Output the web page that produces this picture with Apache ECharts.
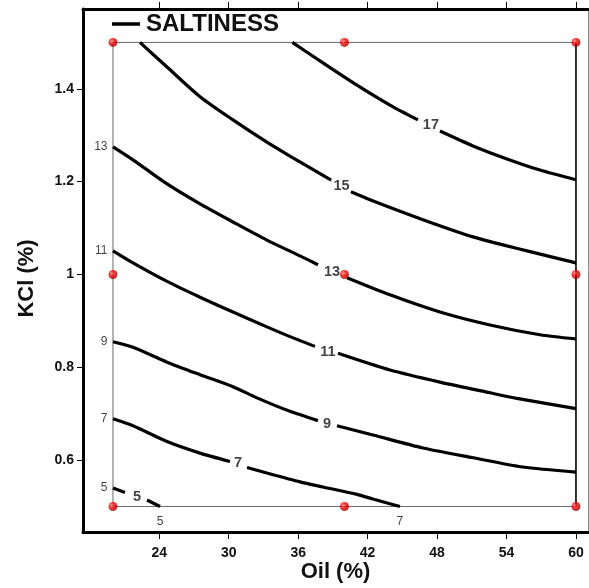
<!DOCTYPE html>
<html><head><meta charset="utf-8">
<script src="https://cdn.jsdelivr.net/npm/echarts@6/dist/echarts.min.js"></script>
<style>html,body{margin:0;padding:0;background:#fff}#c{width:589px;height:588px}</style>
</head><body><div id="c"></div>
<script>
// ---- data (Oil %, KCl %) ----
const xTicks = [24, 30, 36, 42, 48, 54, 60];
const yTicks = [0.6, 0.8, 1.0, 1.2, 1.4];
const oilLevels = [20, 40, 60];
const kclLevels = [0.5, 1.0, 1.5];

// contour lines (null = gap for the inline label)
const sal17 = [[35.5,1.5],[38.14,1.456],[41.08,1.408],[43.93,1.365],[46.35,1.333],null,[48.25,1.309],[51.10,1.277],[54.04,1.249],[56.89,1.225],[60,1.204]];
const sal15 = [[22.33,1.5],[24.67,1.447],[27.52,1.383],[30.37,1.333],[33.30,1.285],[35.29,1.255],[38.85,1.203],null,[40.56,1.178],[42.20,1.161],[46.78,1.118],[51.10,1.081],[55.42,1.053],[60,1.025]];
const sal13 = [[20,1.275],[21.73,1.247],[24.67,1.195],[27.52,1.152],[30.37,1.113],[33.30,1.074],[36.15,1.040],[37.71,1.021],null,[40.22,0.993],[43.93,0.956],[48.25,0.919],[52.57,0.891],[56.89,0.870],[60,0.861]];
const sal11 = [[20,1.051],[21.73,1.025],[24.67,0.985],[27.52,0.951],[30.37,0.919],[33.30,0.887],[35.29,0.866],[37.45,0.845],null,[39.44,0.830],[43.93,0.794],[48.25,0.768],[52.57,0.745],[54.90,0.733],[60,0.711]];
const sal9  = [[20,0.855],[21.73,0.843],[24.67,0.811],[27.52,0.784],[30.37,0.758],[32.44,0.734],[35.29,0.705],[37.71,0.685],null,[39.35,0.674],[42.46,0.654],[46.78,0.626],[51.10,0.605],[55.42,0.585],[60,0.574]];
const sal7  = [[20,0.689],[21.73,0.674],[24.67,0.640],[27.52,0.615],[30.11,0.597],null,[31.58,0.584],[33.30,0.572],[36.16,0.553],[38.14,0.542],[41.08,0.526],[42.46,0.516],[44.79,0.5]];
const sal5  = [[20,0.540],[21.04,0.530],null,[22.94,0.514],[24.06,0.5]];

// contour labels [oil, kcl, text]
const inlineLabels = [[47.47,1.323,'17'],[39.75,1.190,'15'],[38.92,1.005,'13'],[38.57,0.833,'11'],[38.49,0.678,'9'],[30.80,0.594,'7'],[22.07,0.521,'5']];
const leftEdgeLabels = [[20,1.275,'13'],[20,1.051,'11'],[20,0.855,'9'],[20,0.689,'7'],[20,0.540,'5']];
const bottomEdgeLabels = [[24.06,0.5,'5'],[44.79,0.5,'7']];

// ---- build ----
const FONT = 'Liberation Sans, Arial, sans-serif';
function split(arr) {
  const out = []; let cur = [];
  arr.forEach(p => { if (p === null) { if (cur.length) out.push(cur); cur = []; } else cur.push(p); });
  if (cur.length) out.push(cur);
  return out;
}
const contours = [sal17, sal15, sal13, sal11, sal9, sal7, sal5];
const series = [];
contours.forEach(c => split(c).forEach(seg => series.push({
  name: 'SALTINESS', type: 'line', data: seg, symbol: 'none', smooth: 0.25,
  itemStyle: { color: '#000' },
  lineStyle: { color: '#000', width: 3.2 }, z: 3, silent: true
})));
const x0 = Math.min(...oilLevels), x1 = Math.max(...oilLevels);
const y0 = Math.min(...kclLevels), y1 = Math.max(...kclLevels);
series.push({ name: 'box', type: 'line', symbol: 'none', data: [[x1,y0],[x0,y0],[x0,y1],[x1,y1]],
  lineStyle: { color: '#6a6a6a', width: 1 }, z: 2, silent: true });
series.push({ name: 'boxR', type: 'line', symbol: 'none', data: [[x1,y1],[x1,y0]],
  lineStyle: { color: '#000', width: 1.6 }, z: 2, silent: true });
const design = [];
oilLevels.forEach(o => kclLevels.forEach(k => design.push([o, k])));
series.push({ name: 'design', type: 'scatter', data: design, symbolSize: 9, z: 5, silent: true,
  itemStyle: { color: new echarts.graphic.RadialGradient(0.35, 0.35, 0.7, [{offset:0,color:'#ff7a7a'},{offset:0.45,color:'#ee0000'},{offset:1,color:'#a00000'}]) } });
series.push({ name: 'lblIn', type: 'scatter', data: inlineLabels, symbolSize: 1, z: 6, silent: true,
  itemStyle: { color: 'rgba(0,0,0,0)' },
  label: { show: true, position: 'inside', formatter: p => p.value[2], color: '#111', fontFamily: FONT, fontWeight: 'bold', fontSize: 14.5 } });
series.push({ name: 'lblL', type: 'scatter', data: leftEdgeLabels, symbolSize: 1, z: 6, silent: true,
  itemStyle: { color: 'rgba(0,0,0,0)' },
  label: { show: true, position: 'left', distance: 5, formatter: p => p.value[2], color: '#111', fontFamily: FONT, fontSize: 12 } });
series.push({ name: 'lblB', type: 'scatter', data: bottomEdgeLabels, symbolSize: 1, z: 6, silent: true,
  itemStyle: { color: 'rgba(0,0,0,0)' },
  label: { show: true, position: 'bottom', distance: 9, formatter: p => p.value[2], color: '#111', fontFamily: FONT, fontSize: 12 } });

const XMIN = 17.41, XMAX = 61.04, YMIN = 0.445, YMAX = 1.572;
const chart = echarts.init(document.getElementById('c'), null, { renderer: 'canvas' });
chart.setOption({
  animation: false,
  backgroundColor: '#fff',
  grid: { left: 83, top: 9, right: 1, bottom: 56, show: false, containLabel: false, outerBoundsMode: 'none' },
  legend: {
    data: [{ name: 'SALTINESS', icon: 'rect', itemStyle: { color: '#000' } }], left: 112, top: 12, padding: 0,
    itemWidth: 28, itemHeight: 3.5, selectedMode: false,
    textStyle: { fontFamily: FONT, fontWeight: 'bold', fontSize: 24, color: '#111', padding: [0,0,0,1] }
  },
  xAxis: [{
    type: 'value', min: XMIN, max: XMAX, position: 'bottom',
    name: 'Oil (%)', nameLocation: 'middle', nameGap: 29, nameMoveOverlap: false,
    nameTextStyle: { fontFamily: FONT, fontWeight: 'bold', fontSize: 22, color: '#111' },
    axisLine: { show: true, onZero: false, lineStyle: { color: '#000', width: 3 } },
    axisTick: { show: true, length: 7, customValues: xTicks, lineStyle: { color: '#000', width: 1 } },
    axisLabel: { customValues: xTicks, margin: 14, fontFamily: FONT, fontWeight: 'bold', fontSize: 14, color: '#111' },
    splitLine: { show: false }
  }, {
    type: 'value', min: XMIN, max: XMAX, position: 'top',
    axisLine: { show: true, onZero: false, lineStyle: { color: '#000', width: 3 } },
    axisTick: { show: true, length: 7, customValues: xTicks, lineStyle: { color: '#000', width: 1 } },
    axisLabel: { show: false }, splitLine: { show: false }
  }],
  yAxis: [{
    type: 'value', min: YMIN, max: YMAX, position: 'left',
    name: 'KCl (%)', nameLocation: 'middle', nameGap: 45, nameMoveOverlap: false,
    nameTextStyle: { fontFamily: FONT, fontWeight: 'bold', fontSize: 22, color: '#111', padding: [0, 16, 0, 0] },
    axisLine: { show: true, onZero: false, lineStyle: { color: '#000', width: 3 } },
    axisTick: { show: true, length: 6, customValues: yTicks, lineStyle: { color: '#000', width: 1 } },
    axisLabel: { customValues: yTicks, margin: 9, fontFamily: FONT, fontWeight: 'bold', fontSize: 14, color: '#111',
      formatter: v => (Math.abs(v - 1) < 1e-9 ? '1' : v.toFixed(1)) },
    splitLine: { show: false }
  }, {
    type: 'value', min: YMIN, max: YMAX, position: 'right',
    axisLine: { show: true, onZero: false, lineStyle: { color: '#8a8a8a', width: 1 } },
    axisTick: { show: false }, axisLabel: { show: false }, splitLine: { show: false }
  }],
  series: series
});
</script></body></html>
